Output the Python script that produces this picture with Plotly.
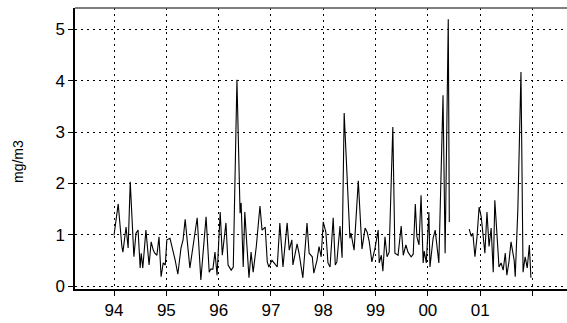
import plotly.graph_objects as go

# Sampling dates (decimal years) and measured concentration (mg/m3); None marks the data gap in 2000
decimal_year = [
    1994.00, 1994.08, 1994.15, 1994.17, 1994.23, 1994.27, 1994.31, 1994.38, 1994.42, 1994.46,
    1994.50, 1994.52, 1994.55, 1994.61, 1994.67, 1994.71, 1994.75, 1994.78, 1994.82, 1994.86,
    1994.90, 1994.94, 1994.98, 1995.01, 1995.07, 1995.11, 1995.17, 1995.22, 1995.28, 1995.32,
    1995.36, 1995.45, 1995.51, 1995.54, 1995.59, 1995.66, 1995.76, 1995.82, 1995.85, 1995.89,
    1995.93, 1995.97, 1996.03, 1996.07, 1996.14, 1996.18, 1996.24, 1996.28, 1996.35, 1996.41,
    1996.43, 1996.47, 1996.50, 1996.58, 1996.62, 1996.66, 1996.72, 1996.79, 1996.83, 1996.89,
    1996.93, 1996.96, 1997.02, 1997.06, 1997.12, 1997.17, 1997.23, 1997.31, 1997.35, 1997.40,
    1997.42, 1997.50, 1997.54, 1997.61, 1997.69, 1997.73, 1997.79, 1997.82, 1997.88, 1997.92,
    1997.96, 1998.00, 1998.05, 1998.09, 1998.13, 1998.19, 1998.23, 1998.26, 1998.32, 1998.36,
    1998.40, 1998.51, 1998.53, 1998.59, 1998.67, 1998.74, 1998.80, 1998.84, 1998.88, 1998.93,
    1998.99, 1999.05, 1999.07, 1999.11, 1999.14, 1999.18, 1999.22, 1999.26, 1999.33, 1999.37,
    1999.43, 1999.49, 1999.53, 1999.58, 1999.62, 1999.68, 1999.72, 1999.76, 1999.79, 1999.83,
    1999.87, 1999.91, 1999.93, 1999.97, 2000.02, 2000.04, 2000.10, 2000.14, 2000.18, 2000.21,
    2000.29, 2000.33, 2000.39, 2000.41, 2000.60, 2000.79, 2000.83, 2000.86, 2000.90, 2000.94,
    2000.98, 2001.02, 2001.06, 2001.09, 2001.13, 2001.17, 2001.21, 2001.25, 2001.28, 2001.32,
    2001.36, 2001.40, 2001.44, 2001.48, 2001.51, 2001.55, 2001.59, 2001.65, 2001.67, 2001.72,
    2001.78, 2001.82, 2001.86, 2001.90, 2001.94, 2001.97,
]
conc_mg_m3 = [
    0.99, 1.60, 0.77, 0.66, 1.15, 0.74, 2.03, 0.57, 1.03, 1.09,
    0.35, 0.64, 0.35, 1.09, 0.41, 0.86, 0.70, 0.64, 0.60, 0.96,
    0.18, 0.45, 0.41, 0.90, 0.93, 0.77, 0.50, 0.23, 0.74, 0.90,
    1.30, 0.35, 0.77, 0.95, 1.33, 0.12, 1.35, 0.27, 0.33, 0.33,
    0.66, 0.21, 1.44, 0.60, 1.23, 0.41, 0.31, 0.37, 4.02, 1.42,
    1.62, 0.37, 1.44, 0.16, 0.66, 0.27, 0.77, 1.56, 1.09, 1.15,
    0.47, 0.37, 0.50, 0.45, 0.37, 1.23, 0.37, 1.23, 0.70, 0.90,
    0.41, 0.82, 0.62, 0.16, 1.23, 0.64, 0.57, 0.25, 0.50, 0.77,
    0.57, 1.25, 1.05, 0.45, 0.37, 1.33, 0.41, 0.47, 1.17, 0.55,
    3.37, 0.93, 1.03, 0.70, 2.05, 0.72, 1.13, 1.05, 0.86, 0.47,
    0.74, 1.09, 0.45, 0.60, 0.29, 0.96, 0.57, 0.66, 3.10, 0.64,
    0.60, 1.17, 0.60, 0.80, 0.66, 0.57, 0.62, 1.60, 0.96, 0.80,
    1.77, 0.45, 0.68, 0.45, 1.44, 0.37, 0.93, 1.09, 0.74, 0.45,
    3.72, 0.64, 5.20, 1.25, None, 1.11, 0.97, 1.03, 0.57, 0.96,
    1.54, 1.35, 0.84, 0.64, 1.44, 0.77, 1.13, 0.27, 1.67, 0.90,
    0.37, 0.45, 0.31, 0.64, 0.21, 0.47, 0.86, 0.50, 0.18, 1.48,
    4.17, 0.27, 0.57, 0.35, 0.80, 0.16,
]

year_ticks = [1994, 1995, 1996, 1997, 1998, 1999, 2000, 2001, 2002]
year_labels = ["94", "95", "96", "97", "98", "99", "00", "01", ""]
y_ticks = [0, 1, 2, 3, 4, 5]

fig = go.Figure(
    go.Scatter(
        x=decimal_year,
        y=conc_mg_m3,
        mode="lines",
        line=dict(color="black", width=1.1),
        connectgaps=False,
        hoverinfo="x+y",
    )
)

fig.update_layout(
    width=567,
    height=323,
    margin=dict(l=75, r=0, t=8, b=34),
    paper_bgcolor="white",
    plot_bgcolor="white",
    showlegend=False,
    font=dict(family="Liberation Sans, Arial, sans-serif", size=17, color="black"),
)

fig.update_xaxes(
    range=[1993.254, 2002.66],
    tickvals=year_ticks,
    ticktext=year_labels,
    ticks="outside",
    ticklen=5,
    tickwidth=1,
    tickcolor="black",
    showline=True,
    linecolor="black",
    linewidth=2,
    showgrid=True,
    gridcolor="black",
    gridwidth=1,
    griddash="2px,4px",
    zeroline=False,
    tickfont=dict(size=17),
)

fig.update_yaxes(
    range=[-0.058, 5.419],
    tickvals=y_ticks,
    ticks="outside",
    ticklen=5,
    tickwidth=1,
    tickcolor="black",
    showline=True,
    linecolor="black",
    linewidth=1.5,
    showgrid=True,
    gridcolor="black",
    gridwidth=1,
    griddash="2px,4px",
    zeroline=False,
    tickfont=dict(size=17),
)

# Thin frame line along the top of the plotting area
fig.add_shape(
    type="line", xref="paper", yref="paper",
    x0=0, x1=1, y0=1, y1=1,
    line=dict(color="#555555", width=1.5),
)

# Rotated unit label on the left
fig.add_annotation(
    text="mg/m3",
    xref="paper", yref="paper",
    x=0, y=0.452,
    xanchor="center", yanchor="middle",
    xshift=-57,
    textangle=-90,
    showarrow=False,
    font=dict(size=14),
)

fig.write_html("out.html")
